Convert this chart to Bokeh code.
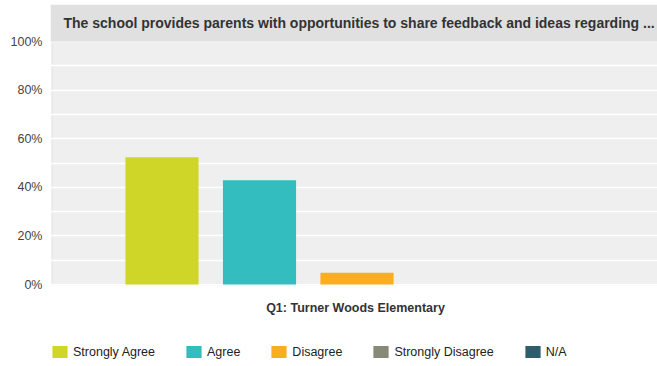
from bokeh.plotting import figure
from bokeh.models import (Range1d, FixedTicker, NumeralTickFormatter,
                          BoxAnnotation, Label, ColumnDataSource)
from bokeh.embed import file_html
from bokeh.resources import INLINE

# ---- data ----
title_text = "The school provides parents with opportunities to share feedback and ideas regarding ..."
group_label = "Q1: Turner Woods Elementary"
categories = ["Strongly Agree", "Agree", "Disagree", "Strongly Disagree", "N/A"]
shares = [0.524, 0.429, 0.048, 0.0, 0.0]
colors = ["#d0d628", "#33bdbf", "#f8ae1f", "#898978", "#2e5e6e"]
y_ticks = [0, 0.2, 0.4, 0.6, 0.8, 1.0]
y_minor = [0.1, 0.3, 0.5, 0.7, 0.9]

FONT = "Liberation Sans"

src = ColumnDataSource(dict(pos=list(range(len(categories))), cat=categories,
                            val=shares, color=colors))

# the frame covers the whole drawing (title band, plot area, label and legend)
p = figure(width=657, height=366, output_backend="svg", toolbar_location=None,
           x_range=Range1d(-1.1436, 5.082), y_range=Range1d(-82 / 243, 280 / 243),
           x_axis_type=None,
           min_border_left=50, min_border_right=0, min_border_top=4,
           min_border_bottom=0)

p.background_fill_color = "white"
p.border_fill_color = "white"
p.outline_line_color = None

# plot area (grey, with light left/bottom borders), drawn beneath the grid
area = BoxAnnotation(bottom=0, top=1, left=-1.13, right=5.2, fill_color="#efefef",
                     fill_alpha=1.0, line_color="#d4d4d4", line_width=2, level="image")
p.add_layout(area)

p.vbar(x="pos", top="val", width=0.75, color="color", line_color=None,
       legend_field="cat", source=src)

# y axis
p.yaxis.ticker = FixedTicker(ticks=y_ticks, minor_ticks=y_minor)
p.yaxis.formatter = NumeralTickFormatter(format="0%")
p.yaxis.major_tick_line_color = None
p.yaxis.minor_tick_line_color = None
p.yaxis.major_tick_out = 0
p.yaxis.minor_tick_out = 0
p.yaxis.major_label_standoff = 8
p.yaxis.major_label_text_font = FONT
p.yaxis.major_label_text_font_size = "12.5px"
p.yaxis.major_label_text_color = "#444444"
p.yaxis.major_label_text_baseline = "top"
p.yaxis.axis_line_color = None

p.ygrid.grid_line_color = "white"
p.ygrid.grid_line_width = 1.5
p.ygrid.minor_grid_line_color = "white"
p.ygrid.minor_grid_line_width = 1.5

# title band
band = BoxAnnotation(bottom=1.0, fill_color="#e0e0e0", fill_alpha=1.0, line_color=None)
p.add_layout(band)
title = Label(x=13, y=1.078, x_units="screen", y_units="data", text=title_text,
              text_font=FONT, text_font_style="bold", text_font_size="14px",
              text_color="#333333", text_baseline="middle")
p.add_layout(title)

# group label under the plot area
glabel = Label(x=305, y=-0.0947, x_units="screen", y_units="data", text=group_label,
               text_font=FONT, text_font_style="bold", text_font_size="12.5px",
               text_color="#333333", text_align="center", text_baseline="middle")
p.add_layout(glabel)

# legend
lg = p.legend[0]
lg.orientation = "horizontal"
lg.location = (0, 7)
lg.glyph_width = 19
lg.glyph_height = 15
lg.label_height = 15
lg.label_standoff = 4
lg.spacing = 29
lg.padding = 0
lg.margin = 0
lg.border_line_color = None
lg.background_fill_alpha = 0
lg.label_text_font = FONT
lg.label_text_font_size = "12.5px"
lg.label_text_color = "#222222"

open("out.html", "w").write(file_html(p, INLINE))
